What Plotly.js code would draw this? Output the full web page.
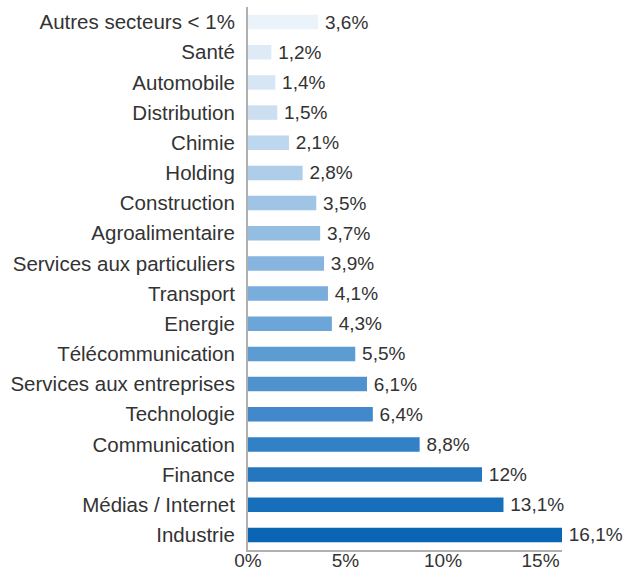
<!DOCTYPE html>
<html><head><meta charset="utf-8">
<script src="https://cdn.plot.ly/plotly-3.0.1.min.js"></script>
<style>html,body{margin:0;padding:0;background:#fff}</style>
</head><body><div id="c" style="width:628px;height:572px"></div>
<script>
const categories = ["Industrie","Médias / Internet","Finance","Communication","Technologie","Services aux entreprises","Télécommunication","Energie","Transport","Services aux particuliers","Agroalimentaire","Construction","Holding","Chimie","Distribution","Automobile","Santé","Autres secteurs < 1%"];
const values = [16.1,13.1,12,8.8,6.4,6.1,5.5,4.3,4.1,3.9,3.7,3.5,2.8,2.1,1.5,1.4,1.2,3.6];
const labels = ["16,1%","13,1%","12%","8,8%","6,4%","6,1%","5,5%","4,3%","4,1%","3,9%","3,7%","3,5%","2,8%","2,1%","1,5%","1,4%","1,2%","3,6%"];
const colors = ["#0a65b4","#176eba","#2477bf","#3280c5","#4189ca","#4f92ce","#5d9bd3","#6ca5d7","#79addb","#87b5df","#94bde2","#a0c4e5","#aecde9","#bdd7ee","#cbdff0","#d7e6f4","#deebf6","#ebf3fa"];
const tickVals = [0,5,10,15];
const tickText = ["0%","5%","10%","15%"];
const FONT = 'Liberation Sans, Arial, Helvetica, sans-serif';
Plotly.newPlot('c',[{
  type:'bar', orientation:'h', y:categories, x:values,
  text:labels, texttemplate:'\u2009%{text}', textposition:'outside', cliponaxis:false, constraintext:'none',
  textfont:{family:FONT, size:19, color:'#333'},
  marker:{color:colors, line:{width:0}}, hoverinfo:'none'
}],{
  width:628, height:572, margin:{l:248,r:66,t:7,b:22},
  paper_bgcolor:'#fff', plot_bgcolor:'#fff', bargap:0.52, showlegend:false,
  font:{family:FONT, size:19, color:'#333'},
  xaxis:{range:[0,16.1], tickvals:tickVals, ticktext:tickText, showgrid:false, zeroline:false,
    showline:true, linecolor:'#b0b0b0', linewidth:2, ticks:'', ticklen:0, ticklabelstandoff:-8,
    tickfont:{family:FONT, size:19,color:'#333'}},
  yaxis:{type:'category', showgrid:false, zeroline:false, showline:true, linecolor:'#b0b0b0', linewidth:2,
    ticks:'', ticklen:0, ticklabelstandoff:7, tickfont:{family:FONT, size:20.5,color:'#333'}, automargin:false}
},{staticPlot:true});
</script></body></html>
